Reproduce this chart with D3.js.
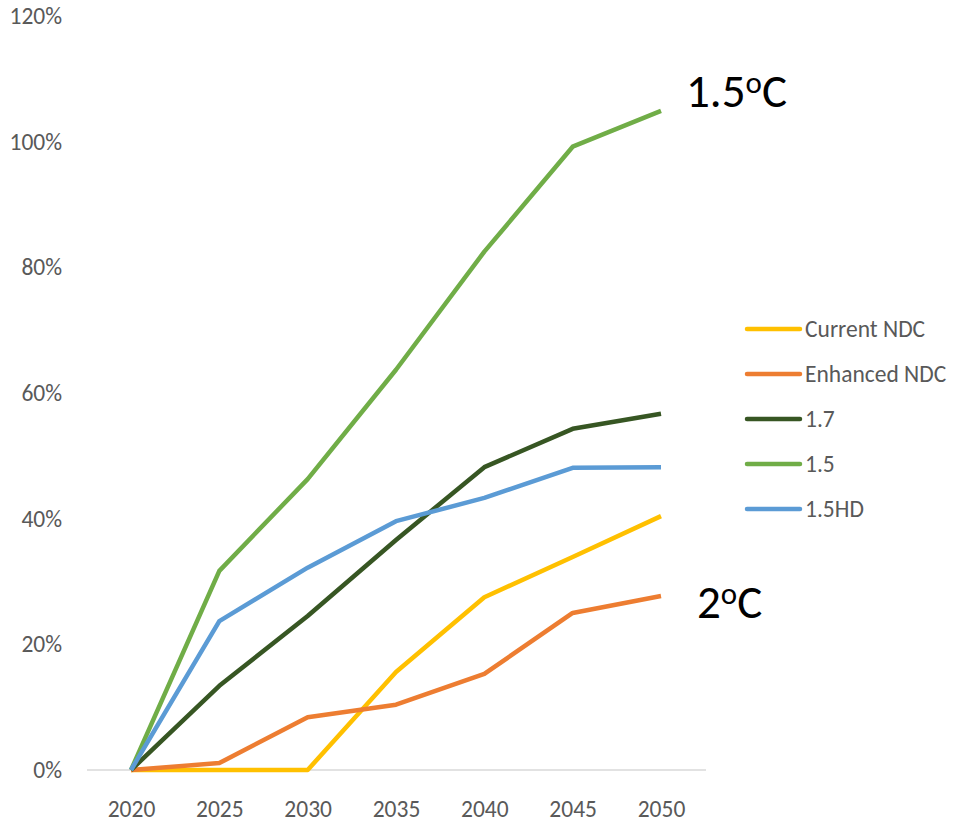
<!DOCTYPE html>
<html>
<head>
<meta charset="utf-8" />
<title>Scenarios</title>
<style>
html, body {
    margin: 0px;
    padding: 0px;
    background: #fff;
}
svg {
    display: block;
}
text {
    font-family: Calibri, Carlito, "Open Sans", sans-serif;
}
</style>
</head>
<body>
<svg id="chart" width="953" height="825"></svg>

<script src="https://d3js.org/d3.v7.min.js"></script>
<script>
// data
var years = [2020, 2025, 2030, 2035, 2040, 2045, 2050]
var yTicks = [0, 0.2, 0.4, 0.6, 0.8, 1.0, 1.2]

var currentNDC  = [0, 0, 0, 0.156, 0.275, 0.339, 0.404]
var enhancedNDC = [0, 0.011, 0.084, 0.104, 0.153, 0.250, 0.277]
var s17         = [0, 0.134, 0.245, 0.366, 0.482, 0.543, 0.567]
var s15         = [0, 0.317, 0.463, 0.637, 0.825, 0.992, 1.049]
var s15HD       = [0, 0.237, 0.322, 0.396, 0.433, 0.481, 0.482]

var series = [
    {name: "Current NDC", values: currentNDC, color: "#FFC000"},
    {name: "Enhanced NDC", values: enhancedNDC, color: "#ED7D31"},
    {name: "1.7", values: s17, color: "#375623"},
    {name: "1.5", values: s15, color: "#70AD47"},
    {name: "1.5HD", values: s15HD, color: "#5B9BD5"}
]

var font = "Calibri, Carlito, 'Open Sans', sans-serif"
var fontSize = 23.5

var svg = d3.select("#chart")

var plot = {left: 87, right: 706, top: 16, bottom: 770}

var xScale = d3.scalePoint()
    .domain(years)
    .range([131, 661])

var yScale = d3.scaleLinear()
    .domain([0, 1.2])
    .range([plot.bottom, plot.top])

// y axis labels, no line
var yAxis = d3.axisLeft(yScale)
    .tickValues(yTicks)
    .tickFormat(d3.format(".0%"))
    .tickSize(0)
    .tickPadding(0)

svg.append("g")
    .attr("class", "y axis")
    .attr("transform", "translate(62,0)")
    .call(yAxis)
    .call(function(g){ g.select(".domain").remove() })
    .selectAll("text")
    .attr("font-size", fontSize)
    .attr("fill", "#595959")
    .style("font-family", font)

// baseline at 0%
svg.append("line")
    .attr("x1", plot.left)
    .attr("x2", plot.right)
    .attr("y1", yScale(0))
    .attr("y2", yScale(0))
    .attr("stroke", "#d9d9d9")
    .attr("stroke-width", 1.5)

var xAxis = d3.axisBottom(xScale)
    .tickSize(0)
    .tickPadding(0)

svg.append("g")
    .attr("class", "x axis")
    .attr("transform", "translate(0,800)")
    .call(xAxis)
    .call(function(g){ g.select(".domain").remove() })
    .selectAll("text")
    .attr("font-size", fontSize)
    .attr("fill", "#595959")
    .style("font-family", font)

var line = d3.line()
    .x(function(d, i){ return xScale(years[i]) })
    .y(function(d){ return yScale(d) })

svg.append("g")
    .selectAll("path")
    .data(series)
    .join("path")
    .attr("d", function(d){ return line(d.values) })
    .attr("fill", "none")
    .attr("stroke", function(d){ return d.color })
    .attr("stroke-width", 4.5)
    .attr("stroke-linejoin", "round")

// legend
var legend = svg.append("g")
    .selectAll("g")
    .data(series)
    .join("g")
    .attr("transform", function(d, i){ return "translate(747," + (329 + i * 45) + ")" })

legend.append("line")
    .attr("x1", 0)
    .attr("x2", 53)
    .attr("stroke", function(d){ return d.color })
    .attr("stroke-width", 4.5)
    .attr("stroke-linecap", "round")

legend.append("text")
    .attr("x", 58)
    .attr("dy", "0.32em")
    .attr("font-size", fontSize)
    .attr("fill", "#595959")
    .text(function(d){ return d.name })

// annotations
function degLabel(x, y, num) {
    var t = svg.append("text")
        .attr("x", x)
        .attr("y", y)
        .attr("font-size", 47)
        .attr("fill", "#000")
    t.append("tspan").text(num)
    t.append("tspan").attr("font-size", 31).attr("dy", -14).text("o")
    t.append("tspan").attr("dy", 14).text("C")
}

degLabel(686, 107, "1.5")
degLabel(697, 618, "2")
</script>
</body>
</html>
